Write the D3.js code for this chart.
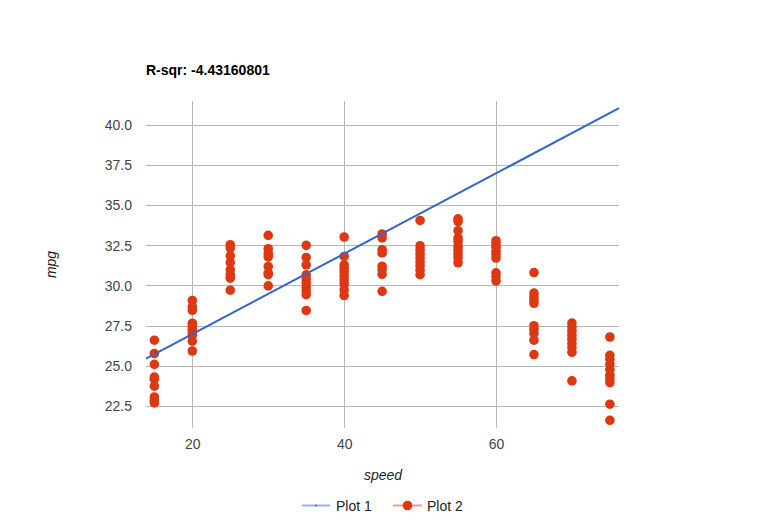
<!DOCTYPE html>
<html><head><meta charset="utf-8">
<script src="https://cdn.jsdelivr.net/npm/d3@7"></script>
<style>body{margin:0;background:#fff}svg{display:block}text{font-family:Arial,"Liberation Sans",sans-serif}</style>
</head><body><svg id="c" width="764" height="530"></svg>
<script>
const title = "R-sqr: -4.43160801";
const xLabel = "speed", yLabel = "mpg";
const seriesNames = ["Plot 1", "Plot 2"];
const xTicks = [20, 40, 60];
const yTicks = [22.5, 25, 27.5, 30, 32.5, 35, 37.5, 40];
// trend line endpoints (Plot 1)
const lineX = [13.9, 76.2];
const lineY = [25.475, 41.05];
// scatter (Plot 2): speed groups and mpg values
const speeds = [15, 20, 25, 30, 35, 40, 45, 50, 55, 60, 65, 70, 75];
const mpg15 = [26.62, 25.79, 25.12, 24.33, 24.2, 23.76, 23.09, 22.88, 22.72];
const mpg20 = [29.09, 28.69, 28.48, 27.68, 27.49, 27.3, 27.12, 26.93, 26.56, 25.95];
const mpg25 = [32.56, 32.35, 31.87, 31.45, 31.0, 30.69, 30.48, 29.73];
const mpg30 = [33.14, 32.31, 32.0, 31.8, 31.2, 30.8, 30.7, 30.0];
const mpg35 = [32.52, 31.77, 31.31, 30.69, 30.44, 30.19, 29.94, 29.69, 29.45, 28.47];
const mpg40 = [33.04, 31.83, 31.31, 31.1, 30.87, 30.62, 30.37, 30.12, 29.75, 29.4];
const mpg45 = [33.23, 32.98, 32.25, 32.05, 31.22, 31.0, 30.72, 29.66];
const mpg50 = [34.07, 32.5, 32.25, 32.0, 31.75, 31.5, 31.25, 30.98, 30.7];
const mpg55 = [34.17, 34.0, 33.43, 32.97, 32.75, 32.46, 32.25, 32.0, 31.75, 31.44];
const mpg60 = [32.81, 32.6, 32.4, 32.15, 31.94, 31.73, 30.81, 30.58, 30.31];
const mpg65 = [30.83, 29.55, 29.34, 29.13, 28.92, 27.52, 27.3, 27.05, 26.62, 25.73];
const mpg70 = [27.69, 27.45, 27.2, 26.93, 26.68, 26.41, 26.16, 25.87, 24.09];
const mpg75 = [26.82, 25.68, 25.44, 25.12, 24.79, 24.44, 24.23, 23.99, 22.64, 21.64];
const mpgGroups = [mpg15, mpg20, mpg25, mpg30, mpg35, mpg40, mpg45, mpg50, mpg55, mpg60, mpg65, mpg70, mpg75];

const colors = ["#3366cc", "#dc3912"];
const svg = d3.select("#c");
const L = 146, R = 619, T = 101, B = 428;
const x = d3.scaleLinear().domain([13.9, 76.2]).range([L, R]);
const y = d3.scaleLinear().domain([21.16, 41.5]).range([B, T]);

// gridlines
svg.append("g").selectAll("line").data(yTicks).join("line")
  .attr("x1", L).attr("x2", R).attr("y1", d => y(d)).attr("y2", d => y(d))
  .attr("stroke", "#b7b7b7").attr("stroke-width", 1).attr("shape-rendering", "crispEdges");
svg.append("g").selectAll("line").data(xTicks).join("line")
  .attr("y1", T).attr("y2", B).attr("x1", d => x(d)).attr("x2", d => x(d))
  .attr("stroke", "#b7b7b7").attr("stroke-width", 1).attr("shape-rendering", "crispEdges");

// axes labels via d3 axes (no domain lines)
const yAxis = svg.append("g").attr("transform", `translate(${L},0)`)
  .call(d3.axisLeft(y).tickValues(yTicks).tickFormat(d3.format(".1f")).tickSize(0).tickPadding(14));
const xAxis = svg.append("g").attr("transform", `translate(0,${B})`)
  .call(d3.axisBottom(x).tickValues(xTicks).tickFormat(d3.format("d")).tickSize(0).tickPadding(11));
[yAxis, xAxis].forEach(a => {
  a.select(".domain").remove();
  a.selectAll("text").attr("font-size", 14).attr("fill", "#444").attr("font-family", "Arial, 'Liberation Sans', sans-serif");
});

// scatter
const pts = [];
speeds.forEach((s, i) => mpgGroups[i].forEach(v => pts.push([s, v])));
svg.append("g").selectAll("circle").data(pts).join("circle")
  .attr("cx", d => x(d[0])).attr("cy", d => y(d[1])).attr("r", 4.8).attr("fill", colors[1]);

// trend line
svg.append("line").attr("x1", x(lineX[0])).attr("y1", y(lineY[0]))
  .attr("x2", x(lineX[1])).attr("y2", y(lineY[1]))
  .attr("stroke", colors[0]).attr("stroke-width", 2);

// title
svg.append("text").attr("x", 146).attr("y", 75).attr("font-size", 14).attr("font-weight", "bold")
  .attr("fill", "#000").text(title);
// axis titles
svg.append("text").attr("x", 383).attr("y", 480).attr("text-anchor", "middle")
  .attr("font-size", 14).attr("font-style", "italic").attr("fill", "#222").text(xLabel);
svg.append("text").attr("transform", `translate(56,${(T + B) / 2}) rotate(-90)`).attr("text-anchor", "middle")
  .attr("font-size", 14).attr("font-style", "italic").attr("fill", "#222").text(yLabel);

// legend
const lg = svg.append("g");
const ly = 505.5;
lg.append("line").attr("x1", 302).attr("x2", 330).attr("y1", ly).attr("y2", ly)
  .attr("stroke", colors[0]).attr("stroke-opacity", 0.5).attr("stroke-width", 2);
lg.append("circle").attr("cx", 316).attr("cy", ly).attr("r", 1).attr("fill", colors[0]);
lg.append("text").attr("x", 336).attr("y", ly + 5).attr("font-size", 14).attr("fill", "#222").text(seriesNames[0]);
lg.append("line").attr("x1", 393).attr("x2", 422).attr("y1", ly).attr("y2", ly)
  .attr("stroke", colors[1]).attr("stroke-opacity", 0.5).attr("stroke-width", 2);
lg.append("circle").attr("cx", 407.5).attr("cy", ly).attr("r", 4.8).attr("fill", colors[1]);
lg.append("text").attr("x", 427).attr("y", ly + 5).attr("font-size", 14).attr("fill", "#222").text(seriesNames[1]);
</script></body></html>
